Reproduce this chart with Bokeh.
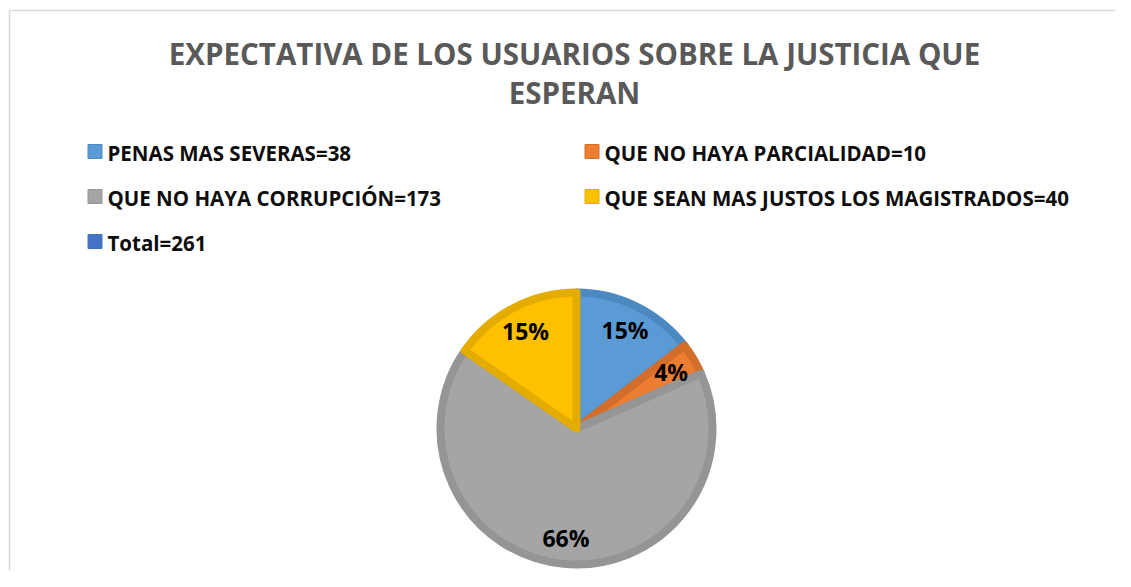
import math
from bokeh.plotting import figure
from bokeh.models import Range1d, Label
from bokeh.core.properties import value
from bokeh.embed import file_html
from bokeh.resources import INLINE

# ---- data ----
title_lines = ["EXPECTATIVA DE LOS USUARIOS SOBRE LA JUSTICIA QUE", "ESPERAN"]
categories = ["PENAS MAS SEVERAS", "QUE NO HAYA PARCIALIDAD",
              "QUE NO HAYA CORRUPCIÓN", "QUE SEAN MAS JUSTOS LOS MAGISTRADOS"]
counts = [38, 10, 173, 40]
total_label = "Total"
total_value = 261

fills = ["#5B9BD5", "#ED7D31", "#A5A5A5", "#FFC000"]
borders = ["#4D89C1", "#D26D2A", "#959595", "#E5AC00"]
total_color = "#4472C4"

W, H = 1115, 571
FONT = "Open Sans"

p = figure(width=W, height=H, output_backend="svg", toolbar_location=None,
           x_range=Range1d(0, W), y_range=Range1d(0, H), min_border=0)
p.axis.visible = False
p.grid.visible = False
p.outline_line_color = None
p.background_fill_color = "white"
p.border_fill_color = "white"

def sx(x):
    return x

def sy(y):
    return H - y

# chart frame (top + left edges)
p.line([sx(9), sx(9), W], [0, sy(10), sy(10)], line_color="#D9D9D9", line_width=1.5)

# title
for i, t in enumerate(title_lines):
    p.add_layout(Label(x=sx(574), y=sy(53 + 39 * i), text=t, text_align="center",
                       text_baseline="alphabetic", text_font=FONT, text_font_style="bold",
                       text_font_size="29.5px", text_color="#595959"))

# legend (manual, two columns)
leg_names = [f"{c}={v}" for c, v in zip(categories, counts)] + [f"{total_label}={total_value}"]
leg_cols = fills + [total_color]
leg_border = borders + [total_color]
col_x = [94.5, 591.5]
row_y = [151, 196, 241]
for i, (name, c, b) in enumerate(zip(leg_names, leg_cols, leg_border)):
    cx = col_x[i % 2]
    cy = row_y[i // 2]
    p.scatter([sx(cx)], [sy(cy)], marker="square", size=14, fill_color=c, line_color=b, line_width=1)
    p.text([sx(cx + 12.5)], [sy(cy + 1)], text=[name], text_font=value(FONT),
           text_font_style="bold", text_font_size="20.5px", text_color="#0D0D0D",
           text_baseline="alphabetic", text_align="left")

# pie
tot = sum(counts)
cxp, cyp = sx(576), sy(428)
R = 136
start = math.pi / 2
cum = 0
for v, f, b in zip(counts, fills, borders):
    a0 = start - 2 * math.pi * cum / tot
    cum += v
    a1 = start - 2 * math.pi * cum / tot
    p.wedge(x=[cxp], y=[cyp], radius=R, start_angle=[a0], end_angle=[a1], direction="clock",
            fill_color=f, line_color=b, line_width=8, line_join="round")

cum = 0
for v in counts:
    mid = start - 2 * math.pi * (cum + v / 2) / tot
    cum += v
    pct = f"{round(100 * v / tot)}%"
    rl = 110
    p.text([cxp + rl * math.cos(mid)], [cyp + rl * math.sin(mid)], text=[pct],
           text_font=value(FONT), text_font_style="bold", text_font_size="23px",
           text_color="black", text_align="center", text_baseline="middle")

open("out.html", "w").write(file_html(p, INLINE))
